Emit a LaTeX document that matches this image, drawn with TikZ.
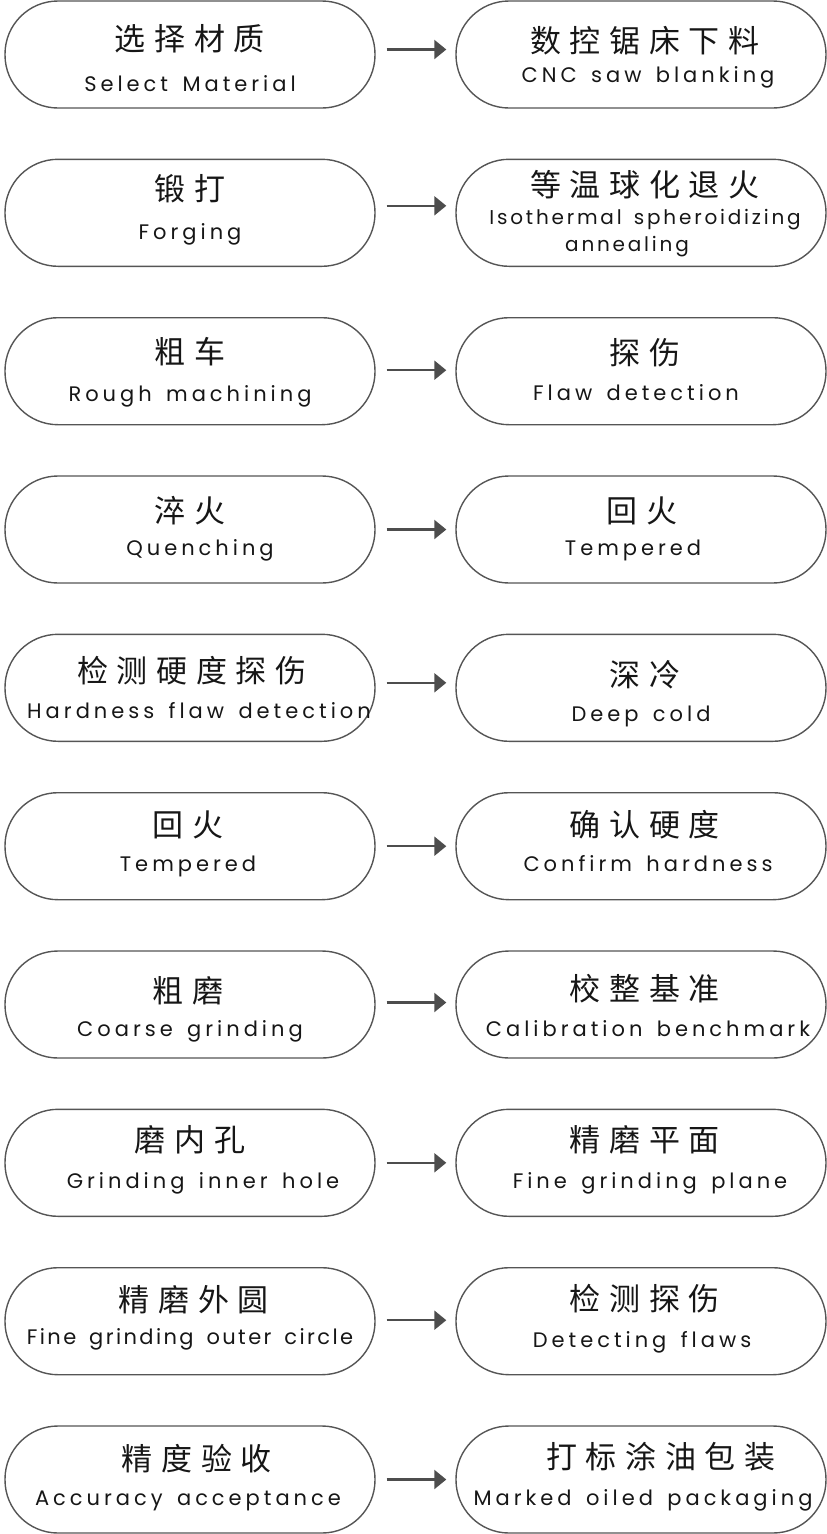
\documentclass[tikz,border=0pt]{standalone}
\usepackage{fontspec}
\usetikzlibrary{arrows.meta}
\newfontfamily\zhfont[LetterSpace=28]{Noto Sans CJK SC}
\newfontfamily\enfont[LetterSpace=19,WordSpace=1.5]{Poppins}
\newfontfamily\enfontB[LetterSpace=14,WordSpace=1.5]{Poppins}
\newfontfamily\enfontC[LetterSpace=11.5,WordSpace=1.6]{Poppins}
\definecolor{pillgray}{HTML}{555555}
\definecolor{arrowgray}{HTML}{4D4D4D}
\definecolor{txt}{HTML}{161616}
\tikzset{
  pill/.style={draw=pillgray, line width=1.4pt, rounded corners=53pt,
    minimum width=370pt, minimum height=107pt, inner sep=0pt},
  zh/.style={font=\zhfont\fontsize{31}{36}\selectfont, text=txt, anchor=base, inner sep=0pt},
  en/.style={font=\enfont\fontsize{21}{26}\selectfont, text=txt, anchor=base, inner sep=0pt},
  ensm/.style={font=\enfontB\fontsize{20}{24}\selectfont, text=txt, anchor=base, inner sep=0pt},
  entight/.style={font=\enfontC\fontsize{21}{26}\selectfont, text=txt, anchor=base, inner sep=0pt},
  flow/.style={draw=arrowgray, line width=2.2pt, -{Triangle[length=12pt,width=19pt]},
    shorten <=11pt, shorten >=9pt}
}
\begin{document}
\begin{tikzpicture}[x=1pt,y=-1pt]
\useasboundingbox (0,0) rectangle (827,1534);
% row 1
\node[pill] (L1) at (190,54.5) {};
\node[pill] (R1) at (641,54.5) {};
\node[zh] (L1z) at (190,50) {选择材质};
\node[en] (L1e) at (190,91.7) {Select Material};
\node[zh] (R1z) at (645,52.5) {数控锯床下料};
\node[en] (R1e) at (648,82) {CNC saw blanking};
\draw[flow] ([yshift=5pt]L1.east) -- ([yshift=5pt]R1.west);
% row 2
\node[pill] (L2) at (190,212.8) {};
\node[pill] (R2) at (641,212.8) {};
\node[zh] (L2z) at (190,200.5) {锻打};
\node[en] (L2e) at (190,239) {Forging};
\node[zh] (R2z) at (645,196.5) {等温球化退火};
\node[ensm] (R2e) at (645,224) {Isothermal spheroidizing};
\node[ensm] (R2f) at (627,251) {annealing};
\draw[flow] ([yshift=7pt]L2.east) -- ([yshift=7pt]R2.west);
% row 3
\node[pill] (L3) at (190,371.2) {};
\node[pill] (R3) at (641,371.2) {};
\node[zh] (L3z) at (190,363.2) {粗车};
\node[en] (L3e) at (190,401) {Rough machining};
\node[zh] (R3z) at (645,364.5) {探伤};
\node[en] (R3e) at (636,400) {Flaw detection};
\draw[flow] ([yshift=1pt]L3.east) -- ([yshift=1pt]R3.west);
% row 4
\node[pill] (L4) at (190,529.5) {};
\node[pill] (R4) at (641,529.5) {};
\node[zh] (L4z) at (190,522.5) {淬火};
\node[en] (L4e) at (200,555) {Quenching};
\node[zh] (R4z) at (642,522.5) {回火};
\node[en] (R4e) at (633,555) {Tempered};
\draw[flow] (L4) -- (R4);
% row 5
\node[pill] (L5) at (190,687.8) {};
\node[pill] (R5) at (641,687.8) {};
\node[zh] (L5z) at (192,682.5) {检测硬度探伤};
\node[en] (L5e) at (199,718) {Hardness flaw detection};
\node[zh] (R5z) at (645,686.5) {深冷};
\node[en] (R5e) at (641,721) {Deep cold};
\draw[flow] ([yshift=5pt]L5.east) -- ([yshift=5pt]R5.west);
% row 6
\node[pill] (L6) at (190,846.2) {};
\node[pill] (R6) at (641,846.2) {};
\node[zh] (L6z) at (188,836.5) {回火};
\node[en] (L6e) at (188,871) {Tempered};
\node[zh] (R6z) at (645,836.5) {确认硬度};
\node[en] (R6e) at (648,871) {Confirm hardness};
\draw[flow] (L6) -- (R6);
% row 7
\node[pill] (L7) at (190,1004.5) {};
\node[pill] (R7) at (641,1004.5) {};
\node[zh] (L7z) at (188,1002.5) {粗磨};
\node[en] (L7e) at (190,1036) {Coarse grinding};
\node[zh] (R7z) at (645,1000.5) {校整基准};
\node[en] (R7e) at (648,1036) {Calibration benchmark};
\draw[flow] ([yshift=2pt]L7.east) -- ([yshift=2pt]R7.west);
% row 8
\node[pill] (L8) at (190,1162.8) {};
\node[pill] (R8) at (641,1162.8) {};
\node[zh] (L8z) at (190,1151.5) {磨内孔};
\node[en] (L8e) at (203,1188) {Grinding inner hole};
\node[zh] (R8z) at (645,1151.5) {精磨平面};
\node[en] (R8e) at (650,1188) {Fine grinding plane};
\draw[flow] (L8) -- (R8);
% row 9
\node[pill] (L9) at (190,1321.2) {};
\node[pill] (R9) at (641,1321.2) {};
\node[zh] (L9z) at (194,1311.2) {精磨外圆};
\node[entight] (L9e) at (190,1344.3) {Fine grinding outer circle};
\node[zh] (R9z) at (645,1310.5) {检测探伤};
\node[en] (R9e) at (642,1347) {Detecting flaws};
\draw[flow] ([yshift=1pt]L9.east) -- ([yshift=1pt]R9.west);
% row 10
\node[pill] (L10) at (190,1479.5) {};
\node[pill] (R10) at (641,1479.5) {};
\node[zh] (L10z) at (197,1470.5) {精度验收};
\node[en] (L10e) at (188,1505) {Accuracy acceptance};
\node[zh] (R10z) at (661,1468.5) {打标涂油包装};
\node[en] (R10e) at (643,1505) {Marked oiled packaging};
\draw[flow] (L10) -- (R10);
\end{tikzpicture}
\end{document}
